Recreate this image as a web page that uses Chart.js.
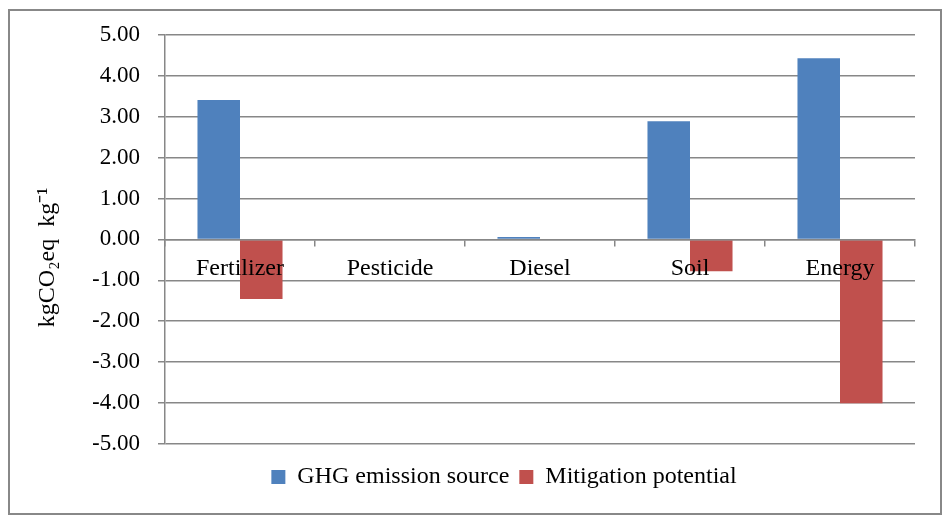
<!DOCTYPE html>
<html>
<head>
<meta charset="utf-8">
<script src="https://cdn.jsdelivr.net/npm/chart.js@4"></script>
<style>
  html, body { margin: 0; padding: 0; background: #fff; }
  #wrap { position: relative; width: 947px; height: 521px; }
  #frame { position: absolute; left: 8px; top: 9px; width: 930px; height: 502px; border: 2px solid #888; pointer-events: none; }
</style>
</head>
<body>
<div id="wrap">
  <canvas id="chart" width="947" height="521"></canvas>
  <div id="frame"></div>
</div>
<script>
// === Data ===
const categories = ['Fertilizer', 'Pesticide', 'Diesel', 'Soil', 'Energy'];
const ghgSource = [3.41, 0.0, 0.06, 2.89, 4.43];
const mitigation = [-1.46, 0.0, 0.0, -0.78, -4.01];
const yTicks = [-5, -4, -3, -2, -1, 0, 1, 2, 3, 4, 5];

const serif = '"Liberation Serif", "Times New Roman", serif';
const gridGray = '#878787';
const padLeft = 93; // shifts the centred legend to where the original sits

new Chart(document.getElementById('chart'), {
  type: 'bar',
  data: {
    labels: categories,
    datasets: [
      { label: 'GHG emission source', data: ghgSource, backgroundColor: '#4F81BD' },
      { label: 'Mitigation potential', data: mitigation, backgroundColor: '#C0504D' }
    ]
  },
  options: {
    responsive: false,
    animation: false,
    layout: { padding: { top: 35, right: 32, bottom: 22, left: padLeft } },
    datasets: { bar: { categoryPercentage: 0.567, barPercentage: 1.0 } },
    plugins: {
      tooltip: { enabled: false },
      legend: {
        position: 'bottom',
        title: { display: true, text: ' ', font: { size: 1 }, padding: 5 },
        labels: {
          color: '#000',
          font: { family: serif, size: 24 },
          boxWidth: 14, boxHeight: 14,
          padding: 10
        }
      }
    },
    scales: {
      x: {
        position: { y: 0 },
        offset: true,
        grid: { drawOnChartArea: false, drawTicks: true, tickLength: 6, color: gridGray, lineWidth: 1.5, offset: true },
        border: { color: gridGray, width: 1.5, z: 1 },
        ticks: { color: '#000', font: { family: serif, size: 24 }, padding: 9, z: 2 }
      },
      y: {
        min: -5, max: 5,
        afterBuildTicks: s => { s.ticks = yTicks.map(v => ({ value: v })); },
        afterFit: s => { s.width = 165 - padLeft; },
        grid: { color: gridGray, lineWidth: 1.5, tickLength: 7 },
        border: { color: gridGray, width: 1.5 },
        ticks: {
          color: '#000', font: { family: serif, size: 23 }, padding: 18,
          callback: v => v.toFixed(2)
        },
        title: {
          display: true,
          text: 'kgCO\u2082eq  kg\u207B\u00B9      ',
          color: '#000',
          font: { family: serif, size: 24 },
          padding: { top: 33 - padLeft, bottom: 0 }
        }
      }
    }
  }
});
</script>
</body>
</html>
